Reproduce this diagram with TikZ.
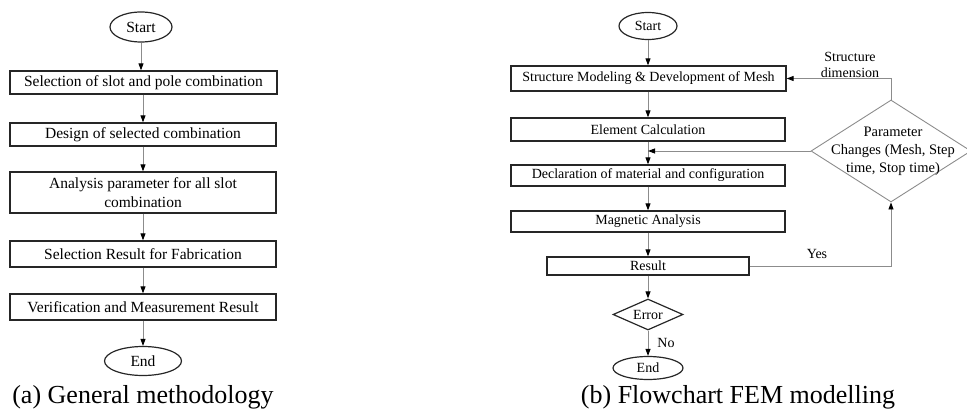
\documentclass[tikz,border=0pt]{standalone}
\usepackage{fontspec}
\setmainfont{Liberation Serif}
\usetikzlibrary{shapes.geometric,arrows.meta}
\begin{document}
\begin{tikzpicture}[x=1pt,y=-1pt,
  lfont/.style={font=\fontsize{15.5}{19}\selectfont},
  rfont/.style={font=\fontsize{14}{16}\selectfont},
  box/.style={draw=black!85,line width=1.3pt,rectangle,inner sep=0pt,align=center},
  term/.style={draw=black!85,line width=1.2pt,ellipse,inner sep=0pt},
  dec/.style={draw=black!85,line width=1.2pt,diamond,inner sep=0pt,align=center},
  pdec/.style={draw=black!45,line width=0.9pt,diamond,inner sep=0pt,align=center},
  conn/.style={draw=black!45,line width=0.9pt,-{Triangle[length=7pt,width=5pt,color=black]}},
  captext/.style={font=\fontsize{26}{30}\selectfont}
]
\useasboundingbox (0,0) rectangle (967,412);

% ---------- (a) General methodology ----------
\node[term,lfont,minimum width=62pt,minimum height=30pt] (as) at (141,27) {Start};
\node[box,lfont,minimum width=267pt,minimum height=23pt] (a1) at (143.5,82.5) {Selection of slot and pole combination};
\node[box,lfont,minimum width=266pt,minimum height=23pt] (a2) at (143,134.5) {Design of selected combination};
\node[box,lfont,minimum width=266pt,minimum height=41pt] (a3) at (143,192.5) {Analysis parameter for all slot\\combination};
\node[box,lfont,minimum width=266pt,minimum height=26pt] (a4) at (143,254) {Selection Result for Fabrication};
\node[box,lfont,minimum width=266pt,minimum height=26pt] (a5) at (143,307) {Verification and Measurement Result};
\node[term,lfont,minimum width=77pt,minimum height=29pt] (ae) at (143,361) {End};
\node[captext] (acap) at (143,397) {(a) General methodology};

\draw[conn] (as.south) -- (as.south |- a1.north);
\draw[conn] (a1.south -| ae) -- (a2.north -| ae);
\draw[conn] (a2.south -| ae) -- (a3.north -| ae);
\draw[conn] (a3.south -| ae) -- (a4.north -| ae);
\draw[conn] (a4.south -| ae) -- (a5.north -| ae);
\draw[conn] (a5.south -| ae) -- (ae.north);

% ---------- (b) Flowchart FEM modelling ----------
\node[term,rfont,minimum width=58pt,minimum height=27pt] (bs) at (648,26) {Start};
\node[box,rfont,minimum width=275pt,minimum height=25pt] (b1) at (648.5,78.5) {Structure Modeling \& Development of Mesh};
\node[box,rfont,minimum width=274pt,minimum height=23pt] (b2) at (648,129.5) {Element Calculation};
\node[box,rfont,minimum width=274pt,minimum height=21pt] (b3) at (648,175.5) {Declaration of material and configuration};
\node[box,rfont,minimum width=274pt,minimum height=21pt] (b4) at (648,221.5) {Magnetic Analysis};
\node[box,rfont,minimum width=202pt,minimum height=18pt] (b5) at (648,266) {Result};
\node[dec,rfont,minimum width=70pt,minimum height=31pt,aspect=2.2] (berr) at (648,314.5) {Error};
\node[term,rfont,minimum width=70pt,minimum height=23pt] (be) at (648,368) {End};
\node[pdec,minimum width=160pt,minimum height=102pt,aspect=1.57] (par) at (891,151) {};
\node[font=\fontsize{14.5}{18}\selectfont,align=center] (ptxt) at (893,151) {Parameter\\Changes (Mesh, Step\\time, Stop time)};
\node[rfont,align=center] (sdim) at (850,65) {Structure\\dimension};
\node[rfont] (yes) at (817,254) {Yes};
\node[rfont] (no) at (666,343) {No};
\node[captext] (bcap) at (738,397) {(b) Flowchart FEM modelling};
\coordinate (join) at (648,151);

\draw[conn] (bs.south) -- (bs.south |- b1.north);
\draw[conn] (b1.south -| bs) -- (b2.north -| bs);
\draw[conn] (b2.south -| bs) -- (b3.north -| bs);
\draw[conn] (b3.south -| bs) -- (b4.north -| bs);
\draw[conn] (b4.south -| bs) -- (b5.north -| bs);
\draw[conn] (b5.south) -- (berr.north);
\draw[conn] (berr.south) -- (be.north);
\draw[conn] (par.west) -- (join);
\draw[conn] (par.north) |- (b1.east);
\draw[conn] (b5.east) -| (par.south);
\end{tikzpicture}
\end{document}
